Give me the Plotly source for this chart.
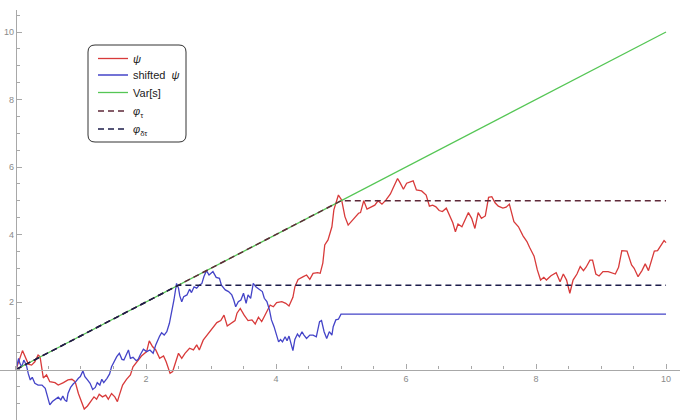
import plotly.graph_objects as go

# ---- data ----
psi_x = [0, 0.10, 0.19, 0.24, 0.29, 0.34, 0.37, 0.40, 0.42, 0.47, 0.52, 0.60, 0.65, 0.73, 0.80, 0.86, 0.91, 0.96,
         1.01, 1.05, 1.10, 1.15, 1.20, 1.24, 1.28, 1.33, 1.38, 1.42, 1.47, 1.52, 1.56, 1.59, 1.64, 1.70, 1.76, 1.80,
         1.86, 1.93, 2.01, 2.05, 2.10, 2.15, 2.21, 2.27, 2.31, 2.37, 2.41, 2.45, 2.50, 2.55, 2.60, 2.67, 2.73, 2.78,
         2.82, 2.88, 2.94, 3.01, 3.09, 3.15, 3.20, 3.25, 3.32, 3.37, 3.40, 3.45, 3.51, 3.57, 3.63, 3.68, 3.73, 3.78,
         3.83, 3.88, 3.91, 3.96, 4.01, 4.09, 4.15, 4.20, 4.26, 4.29, 4.34, 4.42, 4.47, 4.52, 4.57, 4.64, 4.68, 4.72,
         4.75, 4.80, 4.86, 4.89, 4.96, 5.01, 5.06, 5.11, 5.16, 5.22, 5.27, 5.30, 5.35, 5.40, 5.47, 5.52, 5.57, 5.63,
         5.69, 5.76, 5.80, 5.87, 5.91, 5.96, 6.01, 6.06, 6.11, 6.16, 6.24, 6.31, 6.36, 6.41, 6.46, 6.51, 6.56, 6.62,
         6.67, 6.72, 6.76, 6.80, 6.86, 6.91, 6.96, 7.01, 7.06, 7.11, 7.16, 7.22, 7.27, 7.32, 7.37, 7.42, 7.49, 7.54,
         7.59, 7.66, 7.73, 7.80, 7.86, 7.90, 7.97, 8.02, 8.07, 8.12, 8.16, 8.23, 8.31, 8.37, 8.42, 8.47, 8.52, 8.57,
         8.63, 8.68, 8.73, 8.77, 8.83, 8.87, 8.92, 8.97, 9.03, 9.11, 9.22, 9.27, 9.32, 9.40, 9.47, 9.51, 9.57, 9.63,
         9.68, 9.73, 9.78, 9.82, 9.87, 9.92, 9.97, 10.0]
psi_y = [0, 0.56, 0.16, 0.13, 0.23, 0.43, 0.38, -0.06, -0.25, -0.16, -0.36, -0.39, -0.46, -0.39, -0.31, -0.29, -0.36, -0.71,
         -0.95, -1.17, -1.08, -0.95, -0.81, -0.88, -0.73, -0.81, -0.76, -0.88, -0.71, -0.81, -0.95, -0.76, -0.46, -0.29, -0.16, 0.08,
         0.22, 0.40, 0.53, 0.85, 0.68, 0.58, 0.33, 0.40, 0.23, -0.11, -0.06, 0.18, 0.48, 0.33, 0.48, 0.63, 0.58, 0.73,
         0.58, 0.87, 1.02, 1.17, 1.39, 1.45, 1.61, 1.29, 1.37, 1.45, 1.67, 1.81, 1.61, 1.45, 1.47, 1.35, 1.55, 1.42,
         1.61, 1.80, 1.91, 1.86, 1.98, 2.01, 1.96, 1.88, 2.14, 2.45, 2.67, 2.75, 2.80, 2.67, 2.85, 2.87, 2.85, 3.15,
         3.69, 3.84, 4.23, 4.73, 5.17, 5.02, 4.53, 4.28, 4.38, 4.53, 4.63, 4.65, 5.00, 4.75, 4.82, 4.87, 5.00, 4.90,
         5.02, 5.20, 5.37, 5.66, 5.53, 5.34, 5.52, 5.56, 5.59, 5.32, 5.29, 5.17, 4.84, 4.87, 4.82, 4.71, 4.68, 4.78,
         4.58, 4.35, 4.08, 4.31, 4.23, 4.45, 4.65, 4.48, 4.18, 4.65, 4.48, 4.55, 5.10, 5.12, 4.94, 4.84, 4.78, 4.81,
         4.90, 4.38, 4.23, 3.96, 3.79, 3.62, 3.36, 2.95, 2.65, 2.73, 2.65, 2.78, 2.87, 2.60, 2.83, 2.65, 2.26, 2.65,
         2.83, 3.05, 2.93, 3.03, 3.24, 3.24, 2.83, 2.77, 2.90, 2.90, 2.83, 3.03, 3.52, 3.51, 3.10, 3.00, 2.75, 2.93,
         3.13, 2.93, 3.24, 3.51, 3.52, 3.66, 3.82, 3.76]

shifted_x = [0, 0.04, 0.06, 0.09, 0.12, 0.16, 0.19, 0.22, 0.25, 0.29, 0.34, 0.40, 0.45, 0.48, 0.52, 0.56, 0.62, 0.65,
             0.69, 0.72, 0.75, 0.78, 0.80, 0.84, 0.88, 0.92, 0.96, 0.99, 1.03, 1.06, 1.10, 1.14, 1.18, 1.22, 1.25, 1.29,
             1.32, 1.35, 1.40, 1.44, 1.47, 1.51, 1.55, 1.59, 1.63, 1.66, 1.69, 1.73, 1.76, 1.80, 1.85, 1.88, 1.91, 1.96,
             2.01, 2.06, 2.11, 2.15, 2.21, 2.24, 2.28, 2.32, 2.36, 2.40, 2.43, 2.47, 2.50, 2.52, 2.55, 2.58, 2.63, 2.67,
             2.70, 2.74, 2.78, 2.82, 2.86, 2.89, 2.93, 2.97, 3.03, 3.08, 3.13, 3.16, 3.22, 3.27, 3.32, 3.35, 3.38, 3.42,
             3.46, 3.50, 3.54, 3.57, 3.61, 3.65, 3.69, 3.74, 3.79, 3.82, 3.86, 3.90, 3.93, 3.97, 4.00, 4.04, 4.07, 4.10,
             4.14, 4.17, 4.20, 4.23, 4.26, 4.29, 4.33, 4.36, 4.40, 4.43, 4.47, 4.52, 4.57, 4.62, 4.67, 4.70, 4.74, 4.78,
             4.82, 4.86, 4.88, 4.92, 4.96, 5.00, 10.0]
shifted_y = [0, 0.33, 0.18, 0.08, 0.28, 0.13, -0.13, -0.31, -0.23, -0.41, -0.46, -0.46, -0.56, -0.81, -1.05, -0.95, -0.88, -0.82,
             -0.90, -0.79, -0.90, -0.95, -0.71, -0.53, -0.43, -0.36, -0.26, -0.21, -0.04, -0.21, -0.31, -0.41, -0.59, -0.53, -0.39, -0.46,
             -0.29, -0.39, -0.26, -0.13, 0.08, 0.23, 0.38, 0.48, 0.30, 0.28, 0.43, 0.58, 0.33, 0.36, 0.26, 0.30, 0.43, 0.60,
             0.53, 0.58, 0.48, 0.73, 0.99, 1.09, 1.02, 1.12, 1.37, 1.71, 2.06, 2.55, 2.41, 2.18, 2.01, 2.16, 2.21, 2.38,
             2.28, 2.45, 2.41, 2.50, 2.55, 2.75, 2.93, 2.80, 2.90, 2.73, 2.70, 2.50, 2.36, 2.31, 2.21, 2.06, 1.86, 2.01,
             2.06, 2.26, 1.96, 2.21, 2.11, 2.55, 2.45, 2.38, 2.31, 2.11, 2.01, 1.76, 1.47, 1.27, 1.07, 0.82, 0.89, 0.82,
             0.97, 0.85, 0.99, 0.78, 0.56, 0.89, 1.05, 0.97, 1.12, 1.02, 0.92, 1.02, 1.02, 0.97, 1.42, 1.45, 1.12, 0.92,
             1.12, 1.02, 1.27, 1.47, 1.49, 1.64, 1.64]

var_x = [0, 10]
var_y = [0, 10]

phi_tau_x = [0, 5, 10]
phi_tau_y = [0, 5, 5]

phi_dtau_x = [0, 2.5, 10]
phi_dtau_y = [0, 2.5, 2.5]

x_ticks = [2, 4, 6, 8, 10]
y_ticks = [2, 4, 6, 8, 10]

series_names = ["<i>ψ</i>", "shifted  <i>ψ</i>", "Var[s]",
                "<i>φ</i><sub>τ</sub>", "<i>φ</i><sub>δτ</sub>"]

# ---- figure ----
W, H = 680, 420
x_min, x_max = -0.246, 10.215
y_min, y_max = -1.496, 10.652
y_dom_top = 1 - 10 / H

fig = go.Figure()
fig.add_trace(go.Scatter(x=psi_x, y=psi_y, mode="lines", name=series_names[0], legend="legend",
                         line=dict(color="#d83a3a", width=1.3)))
fig.add_trace(go.Scatter(x=shifted_x, y=shifted_y, mode="lines", name=series_names[1], legend="legend2",
                         line=dict(color="#4444c8", width=1.3)))
fig.add_trace(go.Scatter(x=var_x, y=var_y, mode="lines", name=series_names[2], legend="legend3",
                         line=dict(color="#55c655", width=1.3)))
fig.add_trace(go.Scatter(x=phi_tau_x, y=phi_tau_y, mode="lines", name=series_names[3], legend="legend4",
                         line=dict(color="#5e2838", width=1.5, dash="6px,4px")))
fig.add_trace(go.Scatter(x=phi_dtau_x, y=phi_dtau_y, mode="lines", name=series_names[4], legend="legend5",
                         line=dict(color="#1c1c4a", width=1.5, dash="6px,4px")))

axis_col = "#a8a8a8"
tick_font = dict(family="Liberation Sans, Arial, sans-serif", size=9, color="#8a8a8a")

x_pos = (0 - y_min) / (y_max - y_min) * y_dom_top
y_pos = (0 - x_min) / (x_max - x_min)

legend_font = dict(family="Liberation Sans, Arial, sans-serif", size=11, color="#222")
row_px = [58.5, 75, 92.5, 111, 129]


def leg(ypx):
    return dict(x=93 / W, y=1 - ypx / H, xanchor="left", yanchor="middle",
                bgcolor="rgba(0,0,0,0)", borderwidth=0, font=legend_font, itemwidth=30)


fig.update_layout(
    width=W, height=H,
    margin=dict(l=0, r=0, t=0, b=0),
    paper_bgcolor="white", plot_bgcolor="white",
    showlegend=True,
    legend=leg(row_px[0]), legend2=leg(row_px[1]), legend3=leg(row_px[2]),
    legend4=leg(row_px[3]), legend5=leg(row_px[4]),
    xaxis=dict(range=[x_min, x_max], anchor="free", position=x_pos,
               showgrid=False, zeroline=False, showline=True, linecolor=axis_col, linewidth=1.4,
               tickmode="array", tickvals=x_ticks, ticktext=[str(v) for v in x_ticks],
               ticks="inside", ticklen=5, tickcolor=axis_col, tickwidth=1,
               tickfont=tick_font,
               minor=dict(tickmode="linear", tick0=0, dtick=0.5, ticks="inside", ticklen=3,
                          tickcolor=axis_col, showgrid=False)),
    yaxis=dict(range=[y_min, y_max], domain=[0, y_dom_top], anchor="free", position=y_pos,
               showgrid=False, zeroline=False, showline=True, linecolor=axis_col, linewidth=1.4,
               tickmode="array", tickvals=y_ticks, ticktext=[str(v) for v in y_ticks],
               ticks="inside", ticklen=5, tickcolor=axis_col, tickwidth=1,
               tickfont=tick_font,
               minor=dict(tickmode="linear", tick0=0, dtick=0.5, ticks="inside", ticklen=3,
                          tickcolor=axis_col, showgrid=False)),
)

# rounded legend frame (paper coords)
x0, x1 = 88 / W, 186 / W
y1, y0 = 1 - 45 / H, 1 - 142 / H
rx, ry = 7 / W, 7 / H
path = (f"M {x0+rx},{y0} L {x1-rx},{y0} Q {x1},{y0} {x1},{y0+ry} "
        f"L {x1},{y1-ry} Q {x1},{y1} {x1-rx},{y1} L {x0+rx},{y1} Q {x0},{y1} {x0},{y1-ry} "
        f"L {x0},{y0+ry} Q {x0},{y0} {x0+rx},{y0} Z")
fig.add_shape(type="path", path=path, xref="paper", yref="paper",
              line=dict(color="#333333", width=1), fillcolor="white", layer="above")

fig.write_html("out.html")
